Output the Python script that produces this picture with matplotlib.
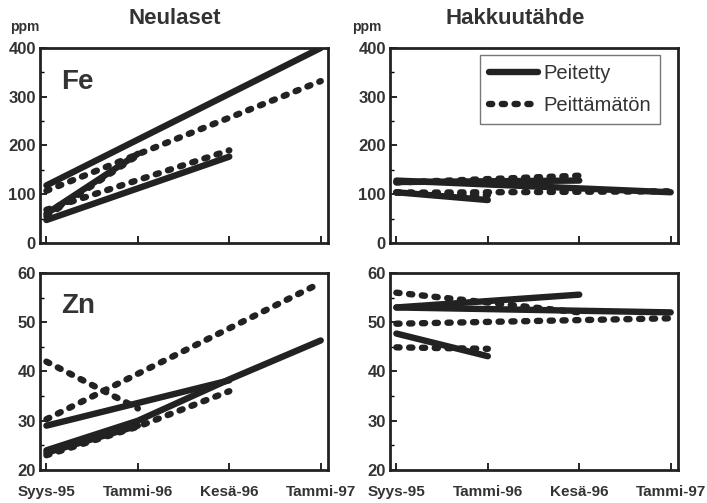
import matplotlib
matplotlib.use("Agg")
import matplotlib.pyplot as plt
from matplotlib.lines import Line2D

plt.rcParams['font.family'] = ['Liberation Sans', 'DejaVu Sans']

# categories on the x axis
ajat = ["Syys-95", "Tammi-96", "Kesä-96", "Tammi-97"]

# Fe, Neulaset (ppm): each series is (x indices, values)
fe_neul_peit = [([0, 3], [118, 400]), ([0, 1], [60, 183]), ([0, 2], [47, 177])]
fe_neul_peittam = [([0, 3], [107, 332]), ([0, 1], [55, 180]), ([0, 2], [68, 190])]

# Fe, Hakkuutähde
fe_hakk_peit = [([0, 3], [128, 104]), ([0, 2], [125, 128]), ([0, 1], [104, 88])]
fe_hakk_peittam = [([0, 3], [103, 106]), ([0, 2], [124, 138]), ([0, 1], [104, 98])]

# Zn, Neulaset
zn_neul_peit = [([0, 1, 2, 3], [24, 30, 38.4, 46.3]), ([0, 2], [29, 38.2]), ([0, 1], [23.5, 29])]
zn_neul_peittam = [([0, 3], [30.3, 58]), ([0, 1], [42, 32.5]), ([0, 1, 2], [23, 28.8, 36])]

# Zn, Hakkuutähde
zn_hakk_peit = [([0, 3], [53, 52]), ([0, 2], [53, 55.6]), ([0, 1], [47.7, 43.1])]
zn_hakk_peittam = [([0, 3], [49.7, 50.8]), ([0, 2], [56, 52]), ([0, 1], [44.9, 44.6])]

col = '#222222'
txt = '#333333'
lw = 4.6
dots = (0, (0.5, 1.5))

fig = plt.figure(figsize=(7.07, 5.03), dpi=100)
pos = {
    'tl': [0.0566, 0.517, 0.4074, 0.3876],
    'tr': [0.5516, 0.517, 0.4074, 0.3876],
    'bl': [0.0566, 0.0656, 0.4074, 0.3917],
    'br': [0.5516, 0.0656, 0.4074, 0.3917],
}

def draw(ax, solid, dotted, ylim, major, minor, xlabels):
    for xs, ys in solid:
        ax.plot(xs, ys, color=col, lw=lw, solid_capstyle='round')
    for xs, ys in dotted:
        ax.plot(xs, ys, color=col, lw=lw, linestyle=dots, dash_capstyle='round')
    ax.set_xlim(-0.07, 3.08)
    ax.set_ylim(*ylim)
    ax.set_yticks(major)
    ax.set_yticks(minor, minor=True)
    ax.set_xticks(range(len(ajat)))
    if xlabels:
        ax.set_xticklabels(ajat, fontsize=11, fontweight='bold', color=txt)
    else:
        ax.set_xticklabels([])
    for lab in ax.get_yticklabels():
        lab.set_fontsize(12)
        lab.set_fontweight('bold')
        lab.set_color(txt)
    ax.tick_params(direction='in', length=5, width=1.2, pad=3)
    ax.tick_params(axis='x', pad=11)
    ax.tick_params(which='minor', direction='in', length=3, width=1)
    for s in ax.spines.values():
        s.set_linewidth(2)
        s.set_color(col)

ax1 = fig.add_axes(pos['tl'])
draw(ax1, fe_neul_peit, fe_neul_peittam, (0, 400), range(0, 401, 100), range(50, 400, 100), False)
ax2 = fig.add_axes(pos['tr'])
draw(ax2, fe_hakk_peit, fe_hakk_peittam, (0, 400), range(0, 401, 100), range(50, 400, 100), False)
ax3 = fig.add_axes(pos['bl'])
draw(ax3, zn_neul_peit, zn_neul_peittam, (20, 60), range(20, 61, 10), range(25, 60, 10), True)
ax4 = fig.add_axes(pos['br'])
draw(ax4, zn_hakk_peit, zn_hakk_peittam, (20, 60), range(20, 61, 10), range(25, 60, 10), True)

ax1.text(0.075, 0.826, "Fe", transform=ax1.transAxes, fontsize=20, fontweight='bold', color=txt, va='center')
ax3.text(0.075, 0.83, "Zn", transform=ax3.transAxes, fontsize=20, fontweight='bold', color=txt, va='center')

fig.text(175 / 707, 1 - 18 / 503, "Neulaset", ha='center', va='center', fontsize=16, fontweight='bold', color=txt)
fig.text(515 / 707, 1 - 18 / 503, "Hakkuutähde", ha='center', va='center', fontsize=16, fontweight='bold', color=txt)
fig.text(25 / 707, 1 - 27 / 503, "ppm", ha='center', va='center', fontsize=10, fontweight='bold', color=txt)
fig.text(367 / 707, 1 - 27 / 503, "ppm", ha='center', va='center', fontsize=10, fontweight='bold', color=txt)

handles = [Line2D([], [], color=col, lw=lw, solid_capstyle='round'),
           Line2D([], [], color=col, lw=lw, linestyle=dots, dash_capstyle='round')]
leg = ax2.legend(handles, ["Peitetty", "Peittämätön"], loc='upper right',
                 bbox_to_anchor=(0.9375, 0.964), borderaxespad=0, fontsize=14.5,
                 frameon=True, fancybox=False, handlelength=2.45, handletextpad=0.25,
                 borderpad=0.45, labelspacing=0.65)
leg.get_frame().set_edgecolor('#555555')
leg.get_frame().set_linewidth(1)
for t in leg.get_texts():
    t.set_color(txt)

fig.savefig("out.png", dpi=100)
